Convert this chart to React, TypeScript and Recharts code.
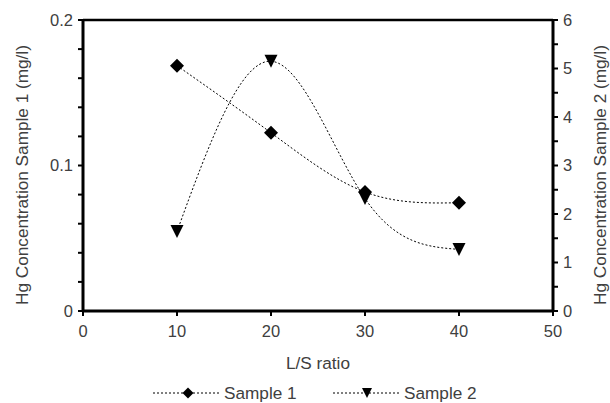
import { LineChart, Line, XAxis, YAxis, ReferenceLine, Legend, Label } from "recharts";

const lsRatio = [10, 20, 30, 40];
const sample1 = [0.1686, 0.1225, 0.0818, 0.0744];
const sample2 = [1.64, 5.15, 2.32, 1.27];

const xTicks = [0, 10, 20, 30, 40, 50];
const leftTicks = [0, 0.02, 0.04, 0.06, 0.08, 0.1, 0.12, 0.14, 0.16, 0.18, 0.2];
const leftLabels = [0, 0.1, 0.2];
const rightTicks = [0, 0.5, 1, 1.5, 2, 2.5, 3, 3.5, 4, 4.5, 5, 5.5, 6];

const data = lsRatio.map((x, i) => ({ x, s1: sample1[i], s2: sample2[i] }));

const FONT = '"Liberation Sans", Arial, Helvetica, sans-serif';
const TEXT = "#404040";
const FS = 16.5;
const TITLE_FS = 17.2;

const axisStroke = { stroke: "#000", strokeWidth: 3 };
const tickStroke = { stroke: "#000", strokeWidth: 2 };
const tickStyle = { fill: TEXT, fontSize: FS, fontFamily: FONT };

function diamond(cx: number, cy: number, r: number) {
  return `${cx},${cy - r} ${cx + r},${cy} ${cx},${cy + r} ${cx - r},${cy}`;
}

function triangleDown(cx: number, cy: number, r: number) {
  return `${cx - r},${cy - r} ${cx + r},${cy - r} ${cx},${cy + r}`;
}

const DiamondDot = (p: any) => (
  <polygon key={`d${p.index}`} points={diamond(p.cx, p.cy, 7)} fill="#000" />
);

const TriangleDot = (p: any) => (
  <polygon key={`t${p.index}`} points={triangleDown(p.cx, p.cy, 6.5)} fill="#000" />
);

// rotated axis title, sitting a little below the middle of the axis like the original
const axisTitle = (text: string, dxFromLeft: number) => (props: any) => {
  const vb = props.viewBox;
  const cx = vb.x + dxFromLeft;
  const cy = vb.y + vb.height / 2 + 9.5;
  return (
    <text
      x={cx}
      y={cy}
      transform={`rotate(-90, ${cx}, ${cy})`}
      textAnchor="middle"
      dominantBaseline="central"
      fill={TEXT}
      fontSize={TITLE_FS}
      fontFamily={FONT}
    >
      {text}
    </text>
  );
};

function LegendItem({ label, shape }: { label: string; shape: "diamond" | "tri" }) {
  return (
    <div style={{ display: "flex", alignItems: "center", height: 18 }}>
      <svg width={66} height={14}>
        <line x1={0} y1={7} x2={66} y2={7} stroke="#000" strokeWidth={1} strokeDasharray="2 2" />
        {shape === "diamond" ? (
          <polygon points={diamond(35, 7, 5.5)} fill="#000" />
        ) : (
          <polygon points={triangleDown(34, 7, 5)} fill="#000" />
        )}
      </svg>
      <span style={{ marginLeft: 5, fontSize: TITLE_FS, lineHeight: "18px", color: TEXT, fontFamily: FONT }}>
        {label}
      </span>
    </div>
  );
}

function LegendRow() {
  return (
    <div style={{ width: 610, height: 30, position: "relative" }}>
      <div style={{ position: "absolute", left: 153, top: 11 }}>
        <LegendItem label="Sample 1" shape="diamond" />
      </div>
      <div style={{ position: "absolute", left: 333, top: 11 }}>
        <LegendItem label="Sample 2" shape="tri" />
      </div>
    </div>
  );
}

export default function App() {
  return (
    <div style={{ position: "absolute", left: 0, top: 0, background: "#fff" }}>
      <LineChart width={610} height={403} data={data} margin={{ top: 20, right: 0, bottom: 0, left: 0 }}>
        <XAxis
          dataKey="x"
          type="number"
          domain={[0, 50]}
          ticks={xTicks}
          interval={0}
          height={62}
          tickSize={5}
          tickMargin={9}
          stroke="#000"
          axisLine={axisStroke}
          tickLine={tickStroke}
          tick={tickStyle}
          label={{
            value: "L/S ratio",
            position: "insideBottom",
            offset: 4,
            style: { fill: TEXT, fontSize: TITLE_FS, fontFamily: FONT },
          }}
        />
        <YAxis
          yAxisId="left"
          orientation="left"
          type="number"
          domain={[0, 0.2]}
          ticks={leftTicks}
          interval={0}
          width={83}
          tickSize={5}
          tickMargin={5}
          stroke="#000"
          axisLine={axisStroke}
          tickLine={tickStroke}
          tick={tickStyle}
          tickFormatter={(v: number) => (leftLabels.some((l) => Math.abs(l - v) < 1e-9) ? String(v) : "")}
        >
          <Label content={axisTitle("Hg Concentration Sample 1 (mg/l)", 22)} />
        </YAxis>
        <YAxis
          yAxisId="right"
          orientation="right"
          type="number"
          domain={[0, 6]}
          ticks={rightTicks}
          interval={0}
          width={57}
          tickSize={5}
          tickMargin={5}
          stroke="#000"
          axisLine={axisStroke}
          tickLine={tickStroke}
          tick={tickStyle}
          tickFormatter={(v: number) => (Number.isInteger(v) ? String(v) : "")}
        >
          <Label content={axisTitle("Hg Concentration Sample 2 (mg/l)", 47)} />
        </YAxis>
        <ReferenceLine yAxisId="left" y={0.2} stroke="#000" strokeWidth={2.5} />
        <Legend verticalAlign="bottom" height={30} content={() => <LegendRow />} />
        <Line
          yAxisId="left"
          dataKey="s1"
          type="natural"
          stroke="#000"
          strokeWidth={1}
          strokeDasharray="2 2"
          dot={DiamondDot}
          activeDot={false}
          isAnimationActive={false}
        />
        <Line
          yAxisId="right"
          dataKey="s2"
          type="natural"
          stroke="#000"
          strokeWidth={1}
          strokeDasharray="2 2"
          dot={TriangleDot}
          activeDot={false}
          isAnimationActive={false}
        />
      </LineChart>
    </div>
  );
}
